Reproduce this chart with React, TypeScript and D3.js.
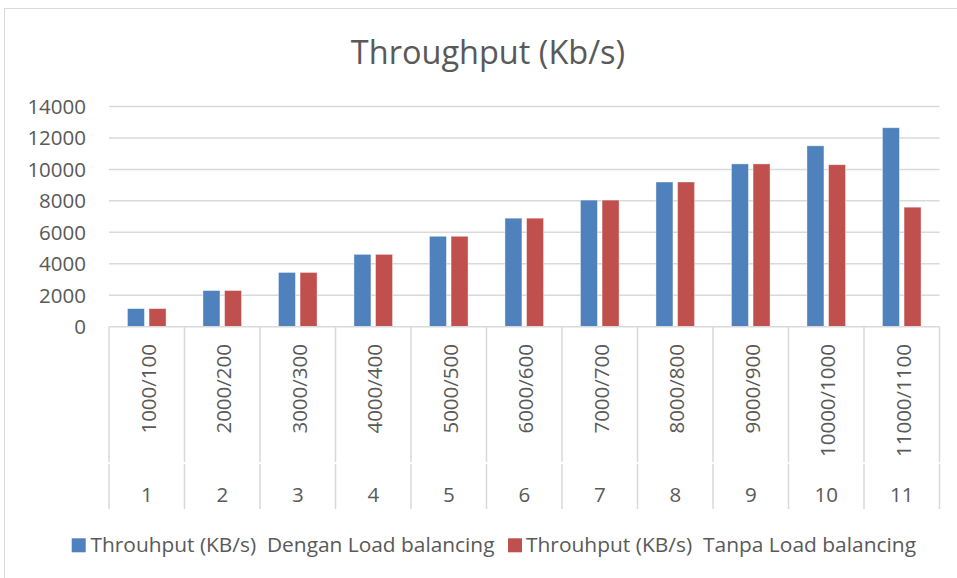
import React from "react";
import * as d3 from "d3";

const categories = ["1", "2", "3", "4", "5", "6", "7", "8", "9", "10", "11"];
const subLabels = ["1000/100", "2000/200", "3000/300", "4000/400", "5000/500", "6000/600", "7000/700", "8000/800", "9000/900", "10000/1000", "11000/1100"];
const dengan = [1150, 2300, 3450, 4600, 5750, 6900, 8050, 9200, 10350, 11500, 12650];
const tanpa = [1150, 2300, 3450, 4600, 5750, 6900, 8050, 9200, 10350, 10300, 7600];
const yTicks = [0, 2000, 4000, 6000, 8000, 10000, 12000, 14000];
const seriesNames = ["Throuhput (KB/s)  Dengan Load balancing", "Throuhput (KB/s)  Tanpa Load balancing"];
const seriesKeys = ["dengan", "tanpa"];
const colors = ["#4F81BD", "#C0504D"];

const W = 957;
const H = 578;
const left = 109;
const right = 939.5;
const top = 106.5;
const bottom = 326.7;
const FONT = "'Open Sans', 'Noto Sans', sans-serif";
const TXT = "#595959";

export default function App() {
  const x = d3.scaleBand<string>().domain(categories).range([left, right]).paddingInner(0).paddingOuter(0);
  const bw = x.bandwidth();
  const grp = 38.6;
  const x1 = d3.scaleBand<string>().domain(seriesKeys).range([(bw - grp) / 2, (bw + grp) / 2]).paddingInner(0.213);
  const y = d3.scaleLinear().domain([0, 14000]).range([bottom, top]);
  const data = [dengan, tanpa];

  return (
    <svg width={W} height={H} style={{ position: "absolute", left: 0, top: 0, background: "#fff" }} fontFamily={FONT}>
      <rect x={4.5} y={8.5} width={W + 10} height={H + 10} fill="#fff" stroke="#D9D9D9" strokeWidth={1} />
      <text x={488} y={63.5} textAnchor="middle" fontSize={32.5} fill={TXT}>Throughput (Kb/s)</text>
      {yTicks.map((t) => (
        <g key={t}>
          {t > 0 && <line x1={left} x2={right} y1={y(t)} y2={y(t)} stroke="#D9D9D9" strokeWidth={1.5} />}
          <text x={86} y={y(t)} dy="0.36em" textAnchor="end" fontSize={20.5} fill={TXT}>{t}</text>
        </g>
      ))}
      {categories.map((c, i) => (
        <g key={c} transform={`translate(${x(c)},0)`}>
          {data.map((arr, s) => (
            <rect key={s} x={x1(seriesKeys[s])} y={y(arr[i])} width={x1.bandwidth()} height={y(0) - y(arr[i])} fill={colors[s]} stroke="#fff" strokeOpacity={0.5} strokeWidth={0.8} />
          ))}
        </g>
      ))}
      <line x1={left} x2={right} y1={bottom} y2={bottom} stroke="#D9D9D9" strokeWidth={1.5} />
      {d3.range(categories.length + 1).map((k) => {
        const xx = k < categories.length ? (x(categories[k]) as number) : right;
        return (
          <g key={k}>
            <line x1={xx} x2={xx} y1={bottom} y2={462} stroke="#D9D9D9" strokeWidth={1.5} />
            <line x1={xx} x2={xx} y1={464} y2={509} stroke="#D9D9D9" strokeWidth={1.5} />
          </g>
        );
      })}
      {categories.map((c, i) => {
        const cx = (x(c) as number) + bw / 2;
        return (
          <g key={"l" + c}>
            <text transform={`translate(${cx + 1},344) rotate(-90)`} textAnchor="end" dominantBaseline="central" fontSize={20.5} fill={TXT}>{subLabels[i]}</text>
            <text x={cx} y={502} textAnchor="middle" fontSize={20.5} fill={TXT}>{c}</text>
          </g>
        );
      })}
      <g>
        <rect x={71.7} y={538.3} width={14} height={14} fill={colors[0]} />
        <text x={90.5} y={552.3} fontSize={19.6} fill={TXT} style={{ whiteSpace: "pre" }} textLength={404} lengthAdjust="spacingAndGlyphs">{seriesNames[0]}</text>
        <rect x={508} y={538.3} width={14} height={14} fill={colors[1]} />
        <text x={526} y={552.3} fontSize={19.6} fill={TXT} style={{ whiteSpace: "pre" }} textLength={390} lengthAdjust="spacingAndGlyphs">{seriesNames[1]}</text>
      </g>
    </svg>
  );
}
